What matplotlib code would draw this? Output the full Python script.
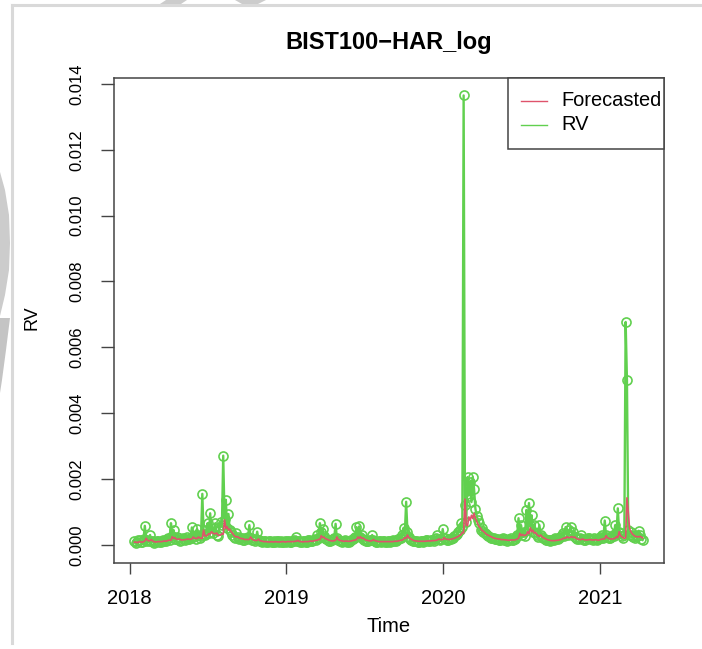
import numpy as np
import matplotlib
matplotlib.use("Agg")
import matplotlib.pyplot as plt
from matplotlib.patches import Ellipse, Polygon, Rectangle
from matplotlib.lines import Line2D

plt.rcParams["font.family"] = ["Liberation Sans", "DejaVu Sans"]

# ---------------- data ----------------
title = "BIST100\u2212HAR_log"
series_names = ["Forecasted", "RV"]
x_label = "Time"
y_label = "RV"
start_year = 2018.031
frequency = 120  # observations per year in this (thinned) series

rv = [
    0.00012, 0.00006, 0.00008, 0.00014, 0.00015, 0.00009, 0.00010, 0.00018, 0.00058, 0.00013,
    0.00014, 0.00011, 0.00030, 0.00012, 0.00011, 0.00007, 0.00009, 0.00012, 0.00013, 0.00010,
    0.00010, 0.00013, 0.00016, 0.00011, 0.00012, 0.00019, 0.00020, 0.00014, 0.00066, 0.00028,
    0.00045, 0.00017, 0.00018, 0.00024, 0.00022, 0.00013, 0.00014, 0.00021, 0.00019, 0.00016,
    0.00025, 0.00018, 0.00017, 0.00022, 0.00053, 0.00024, 0.00028, 0.00019, 0.00048, 0.00030,
    0.00021, 0.00026, 0.00155, 0.00032, 0.00030, 0.00045, 0.00066, 0.00035, 0.00096, 0.00040,
    0.00035, 0.00050, 0.00066, 0.00030, 0.00028, 0.00045, 0.00070, 0.00060, 0.00271, 0.00080,
    0.00137, 0.00050, 0.00094, 0.00045, 0.00040, 0.00030, 0.00025, 0.00022, 0.00037, 0.00024,
    0.00018, 0.00020, 0.00022, 0.00016, 0.00015, 0.00021, 0.00019, 0.00025, 0.00060, 0.00020,
    0.00016, 0.00014, 0.00013, 0.00018, 0.00040, 0.00015, 0.00012, 0.00011, 0.00010, 0.00013,
    0.00011, 0.00009, 0.00008, 0.00012, 0.00012, 0.00010, 0.00010, 0.00013, 0.00009, 0.00011,
    0.00011, 0.00008, 0.00013, 0.00010, 0.00009, 0.00012, 0.00010, 0.00011, 0.00012, 0.00009,
    0.00010, 0.00012, 0.00014, 0.00011, 0.00025, 0.00013, 0.00011, 0.00009, 0.00009, 0.00012,
    0.00012, 0.00010, 0.00010, 0.00014, 0.00015, 0.00011, 0.00013, 0.00016, 0.00018, 0.00014,
    0.00030, 0.00020, 0.00066, 0.00038, 0.00049, 0.00026, 0.00022, 0.00017, 0.00014, 0.00013,
    0.00012, 0.00015, 0.00018, 0.00022, 0.00064, 0.00020, 0.00016, 0.00013, 0.00012, 0.00010,
    0.00011, 0.00014, 0.00013, 0.00010, 0.00010, 0.00012, 0.00016, 0.00018, 0.00020, 0.00025,
    0.00054, 0.00028, 0.00056, 0.00024, 0.00030, 0.00018, 0.00015, 0.00013, 0.00012, 0.00011,
    0.00014, 0.00016, 0.00030, 0.00015, 0.00012, 0.00010, 0.00010, 0.00012, 0.00011, 0.00009,
    0.00013, 0.00011, 0.00009, 0.00010, 0.00012, 0.00013, 0.00010, 0.00011, 0.00014, 0.00012,
    0.00012, 0.00015, 0.00018, 0.00020, 0.00022, 0.00030, 0.00052, 0.00035, 0.00131, 0.00040,
    0.00025, 0.00018, 0.00014, 0.00012, 0.00011, 0.00013, 0.00012, 0.00010, 0.00010, 0.00012,
    0.00013, 0.00010, 0.00011, 0.00014, 0.00015, 0.00012, 0.00012, 0.00016, 0.00014, 0.00013,
    0.00018, 0.00020, 0.00030, 0.00017, 0.00016, 0.00019, 0.00048, 0.00022, 0.00020, 0.00016,
    0.00015, 0.00017, 0.00018, 0.00020, 0.00022, 0.00026, 0.00030, 0.00034, 0.00040, 0.00045,
    0.00068, 0.00055, 0.01365, 0.00121, 0.00070, 0.00206, 0.00150, 0.00192, 0.00130, 0.00206,
    0.00169, 0.00110, 0.00088, 0.00075, 0.00068, 0.00045, 0.00052, 0.00040, 0.00035, 0.00032,
    0.00030, 0.00027, 0.00024, 0.00022, 0.00020, 0.00021, 0.00018, 0.00017, 0.00019, 0.00016,
    0.00015, 0.00018, 0.00022, 0.00016, 0.00017, 0.00013, 0.00014, 0.00018, 0.00020, 0.00015,
    0.00016, 0.00019, 0.00025, 0.00030, 0.00081, 0.00035, 0.00060, 0.00030, 0.00040, 0.00028,
    0.00106, 0.00045, 0.00127, 0.00060, 0.00090, 0.00040, 0.00060, 0.00035, 0.00030, 0.00025,
    0.00060, 0.00030, 0.00025, 0.00020, 0.00018, 0.00016, 0.00015, 0.00014, 0.00013, 0.00015,
    0.00016, 0.00014, 0.00020, 0.00017, 0.00018, 0.00022, 0.00025, 0.00030, 0.00035, 0.00028,
    0.00054, 0.00032, 0.00030, 0.00045, 0.00054, 0.00030, 0.00040, 0.00025, 0.00022, 0.00019,
    0.00018, 0.00020, 0.00030, 0.00018, 0.00016, 0.00015, 0.00019, 0.00021, 0.00022, 0.00018,
    0.00017, 0.00016, 0.00020, 0.00019, 0.00015, 0.00017, 0.00024, 0.00020, 0.00030, 0.00022,
    0.00074, 0.00030, 0.00025, 0.00020, 0.00020, 0.00024, 0.00030, 0.00028, 0.00060, 0.00035,
    0.00111, 0.00040, 0.00035, 0.00026, 0.00022, 0.00030, 0.00677, 0.00501, 0.00045, 0.00030,
    0.00040, 0.00028, 0.00025, 0.00022, 0.00030, 0.00026, 0.00043, 0.00030, 0.00018, 0.00015,
]

forecast = [
    0.00008, 0.00009, 0.00007, 0.00008, 0.00010, 0.00009, 0.00008, 0.00010, 0.00012, 0.00020,
    0.00014, 0.00012, 0.00013, 0.00016, 0.00012, 0.00010, 0.00009, 0.00009, 0.00010, 0.00010,
    0.00010, 0.00010, 0.00011, 0.00012, 0.00011, 0.00012, 0.00014, 0.00014, 0.00014, 0.00025,
    0.00020, 0.00022, 0.00017, 0.00017, 0.00018, 0.00017, 0.00015, 0.00015, 0.00016, 0.00016,
    0.00017, 0.00018, 0.00017, 0.00017, 0.00018, 0.00024, 0.00020, 0.00020, 0.00019, 0.00024,
    0.00021, 0.00020, 0.00020, 0.00045, 0.00028, 0.00027, 0.00030, 0.00034, 0.00033, 0.00040,
    0.00036, 0.00034, 0.00034, 0.00036, 0.00030, 0.00029, 0.00030, 0.00034, 0.00032, 0.00076,
    0.00050, 0.00055, 0.00045, 0.00048, 0.00040, 0.00036, 0.00030, 0.00026, 0.00024, 0.00025,
    0.00022, 0.00020, 0.00019, 0.00019, 0.00017, 0.00016, 0.00017, 0.00016, 0.00017, 0.00024,
    0.00018, 0.00015, 0.00014, 0.00013, 0.00014, 0.00018, 0.00013, 0.00012, 0.00011, 0.00010,
    0.00010, 0.00010, 0.00009, 0.00009, 0.00009, 0.00010, 0.00009, 0.00009, 0.00010, 0.00009,
    0.00009, 0.00009, 0.00009, 0.00010, 0.00010, 0.00009, 0.00009, 0.00010, 0.00010, 0.00010,
    0.00010, 0.00010, 0.00010, 0.00011, 0.00011, 0.00014, 0.00011, 0.00010, 0.00010, 0.00009,
    0.00010, 0.00010, 0.00010, 0.00010, 0.00011, 0.00012, 0.00011, 0.00012, 0.00013, 0.00014,
    0.00014, 0.00017, 0.00016, 0.00028, 0.00022, 0.00024, 0.00019, 0.00018, 0.00016, 0.00014,
    0.00013, 0.00012, 0.00012, 0.00013, 0.00014, 0.00024, 0.00016, 0.00014, 0.00013, 0.00012,
    0.00011, 0.00011, 0.00012, 0.00011, 0.00011, 0.00011, 0.00012, 0.00013, 0.00014, 0.00015,
    0.00016, 0.00024, 0.00020, 0.00025, 0.00020, 0.00021, 0.00018, 0.00015, 0.00014, 0.00013,
    0.00012, 0.00012, 0.00013, 0.00016, 0.00013, 0.00012, 0.00011, 0.00010, 0.00010, 0.00010,
    0.00010, 0.00010, 0.00010, 0.00010, 0.00010, 0.00010, 0.00010, 0.00010, 0.00010, 0.00011,
    0.00011, 0.00011, 0.00012, 0.00013, 0.00014, 0.00015, 0.00017, 0.00022, 0.00020, 0.00030,
    0.00022, 0.00020, 0.00017, 0.00015, 0.00013, 0.00012, 0.00012, 0.00011, 0.00011, 0.00011,
    0.00011, 0.00011, 0.00011, 0.00011, 0.00012, 0.00012, 0.00012, 0.00012, 0.00013, 0.00013,
    0.00013, 0.00014, 0.00015, 0.00018, 0.00016, 0.00016, 0.00016, 0.00022, 0.00018, 0.00017,
    0.00017, 0.00016, 0.00017, 0.00018, 0.00019, 0.00020, 0.00022, 0.00024, 0.00026, 0.00029,
    0.00031, 0.00038, 0.00036, 0.00139, 0.00060, 0.00058, 0.00085, 0.00075, 0.00090, 0.00080,
    0.00096, 0.00080, 0.00072, 0.00062, 0.00055, 0.00050, 0.00044, 0.00042, 0.00038, 0.00034,
    0.00031, 0.00029, 0.00027, 0.00025, 0.00023, 0.00021, 0.00020, 0.00019, 0.00018, 0.00018,
    0.00017, 0.00016, 0.00016, 0.00016, 0.00015, 0.00015, 0.00014, 0.00014, 0.00015, 0.00015,
    0.00015, 0.00015, 0.00016, 0.00018, 0.00020, 0.00035, 0.00028, 0.00032, 0.00028, 0.00030,
    0.00030, 0.00040, 0.00034, 0.00052, 0.00040, 0.00045, 0.00036, 0.00038, 0.00032, 0.00028,
    0.00026, 0.00030, 0.00025, 0.00022, 0.00020, 0.00018, 0.00016, 0.00015, 0.00014, 0.00013,
    0.00013, 0.00013, 0.00013, 0.00014, 0.00014, 0.00015, 0.00016, 0.00017, 0.00019, 0.00021,
    0.00020, 0.00025, 0.00022, 0.00022, 0.00024, 0.00025, 0.00022, 0.00024, 0.00020, 0.00018,
    0.00017, 0.00016, 0.00016, 0.00018, 0.00016, 0.00015, 0.00015, 0.00015, 0.00016, 0.00016,
    0.00015, 0.00015, 0.00015, 0.00016, 0.00015, 0.00014, 0.00015, 0.00017, 0.00017, 0.00019,
    0.00018, 0.00028, 0.00022, 0.00020, 0.00018, 0.00018, 0.00018, 0.00019, 0.00020, 0.00025,
    0.00022, 0.00040, 0.00028, 0.00025, 0.00022, 0.00020, 0.00021, 0.00143, 0.00100, 0.00050,
    0.00040, 0.00034, 0.00030, 0.00027, 0.00025, 0.00025, 0.00024, 0.00026, 0.00024, 0.00021,
]

x_ticks = [2018, 2019, 2020, 2021]
y_ticks = [0.000, 0.002, 0.004, 0.006, 0.008, 0.010, 0.012, 0.014]

# ---------------- figure ----------------
W, H = 702, 649
L, R, T, B = 114, 664, 78, 563
fig = plt.figure(figsize=(W / 100, H / 100), dpi=100)
ax = fig.add_axes([L / W, 1 - B / H, (R - L) / W, (B - T) / H])

n = min(len(rv), len(forecast))
t = start_year + np.arange(n) / frequency

GREEN = "#61D04F"
RED = "#DF536B"
FRAME = "#444444"

ax.plot(t, rv[:n], color=GREEN, lw=1.7, marker="o", ms=6.5, mfc="none",
        mec=GREEN, mew=1.2, zorder=2)
ax.plot(t, forecast[:n], color=RED, lw=1.2, zorder=3)

ax.set_xlim(2017.901, 2021.409)
ax.set_ylim(-0.00055, 0.01418)
ax.set_xticks(x_ticks)
ax.set_xticklabels([str(v) for v in x_ticks])
ax.set_yticks(y_ticks)
ax.set_yticklabels([f"{v:.3f}" for v in y_ticks])

for s in ax.spines.values():
    s.set_color(FRAME)
    s.set_linewidth(1.1)

ax.tick_params(axis="x", length=8, width=1.0, color=FRAME, labelsize=14.5, pad=10.5)
ax.tick_params(axis="y", length=9.5, width=1.0, color=FRAME, labelsize=12,
               pad=12, labelrotation=90)
for lbl in ax.get_yticklabels():
    lbl.set_verticalalignment("center")

fig.text(389 / W, 1 - 42 / H, title, ha="center", va="center",
         fontsize=17, fontweight="bold")
fig.text(389 / W, 1 - 627 / H, x_label, ha="center", va="center", fontsize=14.5)
fig.text(32 / W, 1 - 318 / H, y_label, ha="center", va="center", fontsize=13,
         rotation=90)

# ---- legend box (R style, top-right corner of the plot region) ----
def ax_xy(px, py):
    return ((px - L) / (R - L), (B - py) / (B - T))

x0, y0 = ax_xy(508, 149)
x1, y1 = ax_xy(664, 78)
ax.add_patch(Rectangle((x0, y0), x1 - x0, y1 - y0, transform=ax.transAxes,
                       facecolor="white", edgecolor=FRAME, lw=1.1, zorder=10,
                       clip_on=False))
for name, col, py in zip(series_names, [RED, GREEN], [101, 125]):
    lx0, ly = ax_xy(521, py)
    lx1, _ = ax_xy(547, py)
    ax.add_line(Line2D([lx0, lx1], [ly, ly], transform=ax.transAxes, color=col,
                       lw=1.0, zorder=11, clip_on=False))
    tx, _ = ax_xy(561, py)
    ax.text(tx, ly, name, transform=ax.transAxes, ha="left", va="center",
            fontsize=14.4, zorder=12)

# ---- page decorations (light grey frame / watermark fragments) ----
GREY = "#d9d9d9"
fig.add_artist(Line2D([12 / W, 12 / W], [0.01, 1 - 5 / H], transform=fig.transFigure,
                      color=GREY, lw=2.2))
fig.add_artist(Line2D([12 / W, 1.0], [1 - 5 / H, 1 - 5 / H], transform=fig.transFigure,
                      color=GREY, lw=2.2))

def fpts(pts):
    return [(px / W, 1 - py / H) for px, py in pts]

WM = "#cccccc"
fig.add_artist(Polygon(fpts([(0, 172), (5, 190), (9, 215), (10, 243), (9, 270),
                             (5, 295), (0, 316)]),
                       closed=True, transform=fig.transFigure, facecolor=WM,
                       edgecolor="none"))
fig.add_artist(Polygon(fpts([(0, 318), (10, 318), (6, 350), (2, 380), (0, 393)]),
                       closed=True, transform=fig.transFigure, facecolor="#c4c4c4",
                       edgecolor="none"))
fig.add_artist(Polygon(fpts([(160, 4), (166, 0), (187, 0), (181, 4)]),
                       closed=True, transform=fig.transFigure, facecolor=WM,
                       edgecolor="none"))
fig.add_artist(Polygon(fpts([(235, 0), (266, 0), (258, 4), (242, 4)]),
                       closed=True, transform=fig.transFigure, facecolor=WM,
                       edgecolor="none"))

fig.savefig("out.png", dpi=100)
